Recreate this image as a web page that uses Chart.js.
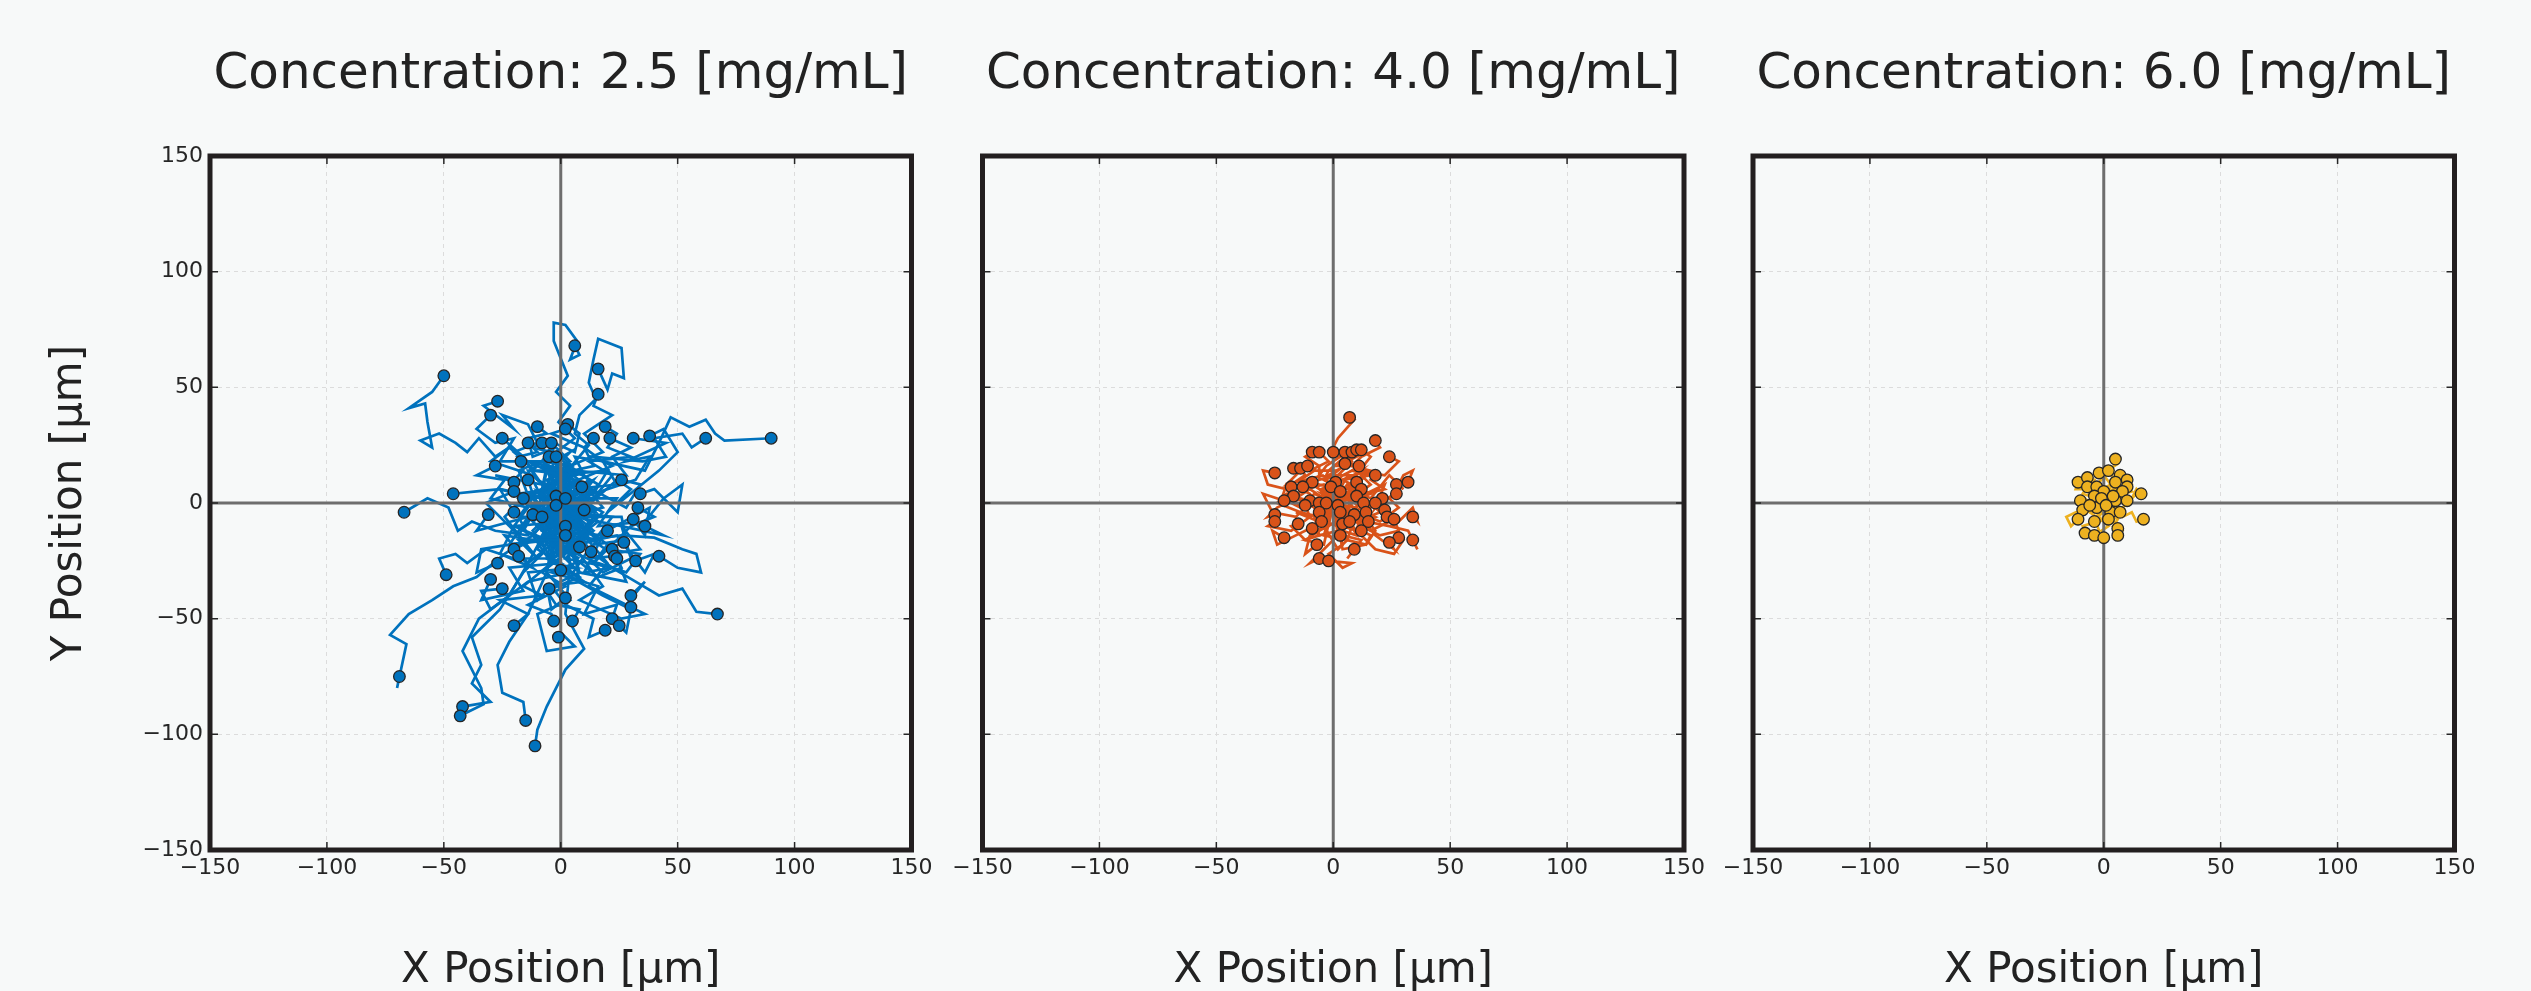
<!DOCTYPE html>
<html>
<head>
<meta charset="utf-8">
<title>Particle tracks</title>
<script src="https://cdn.jsdelivr.net/npm/chart.js@4.4.1/dist/chart.umd.min.js"></script>
<style>
  body { margin: 0; background: #f7f9f9; }
  .panel { position: absolute; top: 0; }
</style>
</head>
<body>
<canvas id="c0" class="panel" width="945" height="991" style="left:0px"></canvas>
<canvas id="c1" class="panel" width="772" height="991" style="left:945px"></canvas>
<canvas id="c2" class="panel" width="814" height="991" style="left:1717px"></canvas>
<script>
const concentrations = ['2.5', '4.0', '6.0'];
const axisTicks = [-150, -100, -50, 0, 50, 100, 150];

// every track starts at the origin; x,y pairs follow, the last pair is the end marker
const tracks25 = [
  [-5,4, 3,10, -6,14, -2,6, -10,10, -15,18, -22,24, -28,20, -35,28, -40,22, -45,26, -52,30, -60,27, -55,24, -57,35, -58,43, -65,41, -55,48, -50,55],
  [4,6, -3,12, 5,16, -2,22, 6,28, -1,35, 4,42, -2,48, 3,55, 1,60, -3,70, -3,78, 2,77, 7,70, 4,62, 8,64, 6,68],
  [6,-5, 10,8, 3,14, 12,25, 6,30, 8,38, 15,45, 12,52, 14,62, 16,71, 26,67, 27,54, 22,56, 20,49, 16,58],
  [5,-4, -3,2, 8,6, 12,10, 4,16, 18,22, 10,30, 16,34, 22,38, 14,42, 16,47],
  [-6,8, 2,12, -8,18, -12,15, -20,22, -10,26, -14,34, -25,38, -20,32, -33,42, -27,44],
  [-10,5, -2,-6, -12,-2, -18,14, -8,18, -26,18, -20,28, -28,26, -36,32, -30,38],
  [3,8, -8,4, -6,14, 4,18, -2,24, -12,20, -14,28, -6,30, -10,33],
  [-5,6, 6,4, 4,16, -8,18, -3,26, 6,22, 8,30, 3,34],
  [7,-6, -4,-10, 12,5, 2,4, 5,14, 14,16, 10,24, -4,30, 2,32],
  [8,4, 15,-3, 6,-8, 22,12, 12,18, 30,20, 20,24, 24,30, 19,33],
  [-8,-6, 2,-12, -18,2, -6,6, -12,12, -30,18, -22,24, -16,20, -25,28],
  [-5,-8, 6,-14, -14,4, -2,8, -6,14, -18,20, -10,22, -14,26],
  [4,4, -8,-4, -3,10, 6,12, -12,14, -4,22, -12,24, -8,26],
  [-7,5, 4,-2, 2,10, -6,6, -3,18, 4,22, -2,16, -4,26],
  [5,7, -6,2, -2,15, 10,12, 6,20, 18,18, 10,24, 14,28],
  [10,-2, 2,-10, 16,8, 6,14, 28,12, 22,20, 30,24, 21,28],
  [9,6, -2,12, 20,14, 14,4, 32,10, 38,20, 28,18, 45,26, 31,28],
  [12,2, 4,-8, 24,10, 30,6, 20,-4, 42,14, 50,22, 44,32, 38,29],
  [10,8, -2,6, 22,16, 14,20, 35,18, 45,20, 40,28, 52,30, 56,24, 62,28],
  [15,-4, 6,6, 24,8, 18,18, 36,14, 42,26, 47,37, 55,33, 62,36, 66,30, 70,27, 90,28],
  [5,3, -4,-6, 8,-10, -12,4, -4,8, 0,12, -8,16, -5,20],
  [6,-5, -6,-2, 10,6, 2,10, -6,14, 4,16, -2,20],
  [-4,10, 4,4, -12,2, -6,-6, -22,8, -16,14, -17,18],
  [-8,-4, 2,-8, -20,-10, -14,-2, -30,2, -24,10, -36,12, -28,16],
  [3,-8, -8,-3, 4,2, -4,6, -18,4, -10,-2, -14,10],
  [-6,10, 4,14, -15,18, -8,8, -28,12, -20,9],
  [-5,-10, 6,-6, -12,-4, -18,-14, -26,-6, -32,0, -20,5],
  [-10,3, 2,-6, -18,-6, -12,2, -26,6, -36,5, -46,4],
  [-8,-10, 4,-16, -18,-16, -10,-24, -24,-6, -16,2],
  [4,-8, -6,-14, 8,6, 14,-4, -6,8, -10,-2, -2,3],
  [-6,-4, 4,8, 6,-12, 12,2, 10,-4, 2,2],
  [10,-12, 2,-20, 18,-4, 8,2, 14,10, 9,7],
  [8,-6, 16,4, 6,10, 28,-2, 34,8, 26,10],
  [12,10, 4,2, 24,2, 16,-10, 36,-8, 44,2, 52,8, 50,-4, 40,6, 34,4],
  [10,-10, 2,-4, 20,-18, 14,-26, 30,-10, 40,-6, 33,-2],
  [6,10, -6,16, -8,6, 6,2, -4,-6, -2,-1],
  [-10,-4, -4,6, -20,-2, -14,-14, -28,-12, -38,-8, -44,-12, -48,-2, -57,2, -67,-4],
  [-10,-10, 2,-14, -22,-18, -14,-6, -36,-12, -31,-5],
  [-4,8, 6,14, -14,14, -8,2, -26,6, -20,-4],
  [6,-10, -6,-6, -4,-18, 8,-24, -16,-12, -12,-5],
  [-4,12, 8,8, -12,4, -6,-8, -2,-8, -8,-6],
  [-4,-10, 6,-6, 8,-16, -2,-22, 16,-8, 10,-3],
  [12,4, 4,-4, 22,-6, 16,-14, 38,-2, 36,-14, 31,-7],
  [10,-14, 2,-8, 22,-22, 34,-20, 26,-10, 44,-14, 36,-10],
  [-6,6, 4,12, -8,-8, 10,0, -2,-4, 6,-14, 2,-10],
  [8,-4, -4,-8, 6,6, -8,-18, 6,-20, -4,-24, 2,-14],
  [10,8, 18,-2, 4,-6, 26,-6, 28,-16, 14,-18, 20,-12],
  [6,-14, -2,-18, 16,-26, 28,-30, 34,-22, 20,-20, 27,-17],
  [-6,-10, 6,-4, 2,-22, 12,-12, -4,-16, 8,-19],
  [8,-6, -2,-12, 18,-14, 10,-30, 22,-28, 13,-21],
  [12,-8, 4,-20, -6,-14, 16,-32, 26,-28, 22,-20],
  [14,2, 6,-6, 26,-10, 30,-24, 18,-30, 12,-24, 23,-23],
  [6,-8, 16,-16, -2,-20, 8,-30, 28,-34, 24,-24],
  [14,-12, 6,-18, 24,-14, 36,-30, 40,-22, 32,-25],
  [14,-6, 8,-16, 26,-14, 40,-15, 52,-20, 58,-22, 60,-30, 50,-28, 42,-23],
  [-10,-6, 2,-12, -4,-18, -14,-26, -24,-14, -12,-16, -20,-20],
  [-8,-14, 4,-20, -20,-10, -26,-22, -12,-28, -18,-23],
  [-12,-8, -4,-16, -22,-18, -34,-20, -36,-30, -27,-26],
  [-12,-12, -4,-24, -20,-24, -32,-20, -40,-26, -45,-22, -52,-24, -49,-31],
  [-10,-20, 0,-26, -22,-28, -16,-38, -34,-42, -30,-33],
  [-6,-24, 4,-30, -14,-34, -30,-46, -34,-38, -25,-37],
  [-8,-12, 6,-18, -4,-24, 4,-10, 8,-34, 0,-29],
  [-12,-14, -4,-26, 6,-28, -14,-30, -10,-42, -5,-37],
  [6,-16, -2,-26, 10,-34, -6,-36, -4,-46, 2,-41],
  [10,-14, 20,-26, 12,-36, 28,-44, 36,-34, 30,-40],
  [8,-22, 18,-36, 8,-42, 26,-50, 36,-48, 30,-45],
  [10,-16, 2,-24, 22,-28, 32,-34, 42,-40, 52,-37, 58,-47, 67,-48],
  [6,-26, -4,-30, 16,-36, 10,-48, 24,-44, 22,-50],
  [12,-20, 4,-32, 18,-40, 30,-46, 28,-56, 25,-53],
  [8,-30, -4,-36, 2,-44, 14,-50, 12,-58, 19,-55],
  [-4,-24, 8,-32, -6,-38, -2,-44, 8,-46, 5,-51],
  [4,-20, -8,-30, 2,-36, -14,-44, -4,-48, -3,-51],
  [-6,-30, 4,-42, -10,-48, -6,-64, 6,-62, 0,-56, -1,-58],
  [-4,-26, -16,-36, -8,-40, -26,-42, -14,-48, -20,-53],
  [-12,-14, -24,-22, -36,-32, -46,-36, -55,-42, -65,-48, -73,-57, -66,-61, -70,-80, -69,-75],
  [-8,-22, -16,-30, -26,-46, -38,-58, -34,-70, -38,-78, -30,-86, -42,-88],
  [-14,-26, -22,-40, -35,-50, -42,-64, -34,-80, -33,-87, -43,-92],
  [-6,-30, -14,-48, -22,-60, -27,-70, -25,-82, -16,-86, -15,-94],
  [4,-26, 2,-48, 10,-63, 2,-72, -6,-88, -10,-98, -11,-105]
];

const tracks40 = [
  [3,6, -4,10, -2,14, 5,20, 0,24, 2,28, 9,36, 7,37],
  [4,-3, -2,4, 10,8, 16,14, 8,16, 12,20, 20,24, 18,27],
  [-4,6, 2,12, -6,10, -6,16, -12,20, -9,22],
  [3,4, -3,10, 2,14, -10,14, -2,18, -6,22],
  [-5,6, 4,10, -6,12, -3,16, 3,20, 0,22],
  [6,-4, 10,6, -2,6, 2,12, 8,18, 5,22],
  [-4,4, 4,12, 12,16, 2,16, 6,19, 8,22],
  [8,6, 14,14, 6,18, 12,21, 10,23],
  [5,10, 12,14, 8,10, 16,20, 12,23],
  [8,2, 16,8, 10,14, 22,12, 28,18, 24,20],
  [-4,4, 2,9, 8,12, -2,12, 3,15, 5,17],
  [-6,2, -14,-2, -20,6, -28,8, -30,14, -25,13],
  [-6,6, -12,10, -4,12, -20,8, -14,14, -17,15],
  [-4,-4, -10,4, -18,8, -12,12, -14,15],
  [2,6, -6,8, -14,10, -8,14, -11,16],
  [6,4, 12,6, 4,10, 16,12, 8,14, 11,16],
  [8,-4, 14,4, 22,6, 16,10, 18,12],
  [10,2, 18,-2, 26,4, 30,12, 34,14, 32,9],
  [8,6, 16,2, 24,12, 30,6, 27,8],
  [10,-4, 20,-8, 28,-2, 24,2, 27,4],
  [6,8, 14,4, 22,8, 18,-2, 21,2],
  [-6,-4, 2,4, -4,8, -12,6, -9,9],
  [-8,4, -14,-2, -22,2, -20,8, -18,7],
  [-6,-6, -14,-4, -24,0, -20,4, -17,3],
  [-4,2, -10,6, -16,2, -13,7],
  [-8,2, -16,-6, -26,-4, -30,4, -21,1],
  [4,4, -2,2, 3,6, 1,9],
  [-4,-2, 2,3, -3,5, -1,7],
  [6,2, 12,-2, 8,6, 10,9],
  [4,-4, 10,2, 16,4, 12,6],
  [-2,-4, 5,-2, 1,2, 3,5],
  [6,-6, 12,-2, 8,2, 10,3],
  [-4,4, -8,-2, -14,2, -10,1],
  [2,-4, -4,-6, -8,-2, -6,0],
  [-5,4, 2,2, -3,-2, -3,0],
  [4,4, -2,-4, 4,-2, 2,-1],
  [6,-2, 10,4, 16,-2, 13,0],
  [8,4, 14,-4, 20,2, 18,0],
  [-6,-8, -16,-4, -10,-6, -12,-1],
  [4,-6, -2,-10, -8,-6, -6,-4],
  [-4,-8, 2,-10, 6,-6, 3,-4],
  [4,-10, 10,-12, 12,-4, 9,-5],
  [6,2, 12,-8, 18,-6, 14,-4],
  [8,-6, 16,-12, 24,-8, 22,-3],
  [10,4, 18,-2, 26,-10, 23,-6],
  [12,-10, 20,-14, 28,-12, 26,-7],
  [10,-8, 20,-4, 28,-8, 34,-2, 36,-8, 34,-6],
  [-8,-2, -16,2, -24,-2, -28,-6, -25,-5],
  [-10,-6, -18,-12, -28,-10, -25,-8],
  [-6,-12, -12,-16, -18,-10, -15,-9],
  [2,-12, -6,-14, -8,-6, -5,-8],
  [-4,-14, 6,-16, 8,-10, 4,-9],
  [10,-2, 4,-12, 10,-14, 7,-8],
  [6,-16, 14,-18, 18,-12, 15,-8],
  [-4,-18, -12,-16, -6,-14, -9,-11],
  [4,-20, 14,-18, 16,-14, 12,-12],
  [-4,-10, 2,-20, 6,-16, 3,-14],
  [-8,-10, -16,-14, -24,-18, -26,-12, -21,-15],
  [10,-12, 18,-20, 26,-22, 30,-16, 28,-15],
  [12,-6, 18,-14, 26,-20, 24,-17],
  [14,-8, 24,-10, 32,-12, 36,-20, 34,-16],
  [-2,-10, -10,-14, -12,-22, -7,-18],
  [4,-14, 12,-16, 6,-24, 9,-20],
  [2,-14, -4,-20, -10,-26, -6,-24],
  [4,-18, -2,-22, 4,-28, 8,-26, -2,-25]
];

const tracks60 = [
  [2,4, 4,10, 3,15, 6,17, 5,19],
  [-4,2, -8,6, -12,6, -11,9],
  [-2,4, -6,6, -4,10, -7,11],
  [2,4, -3,8, 0,11, -2,13],
  [-2,5, 3,8, 0,12, 2,14],
  [4,2, 8,6, 5,9, 7,12],
  [4,6, 9,4, 12,8, 10,10],
  [5,-2, 8,4, 12,5, 10,7],
  [-2,3, 3,5, 6,7, 5,9],
  [-3,-2, -6,3, -9,4, -7,7],
  [2,2, -2,4, -4,5, -3,7],
  [-2,-2, 2,2, -1,3, 0,5],
  [3,-2, 6,2, 9,3, 8,5],
  [4,2, 8,0, 12,2, 14,6, 16,4],
  [-4,-2, -8,2, -12,0, -10,1],
  [-2,-4, -5,0, -3,1, -4,3],
  [3,4, 6,-2, 4,0, 5,1],
  [4,-3, 8,-2, 12,2, 10,1],
  [-4,2, -8,0, -10,-4, -9,-3],
  [2,-4, -2,-5, -4,-1, -3,-2],
  [-2,-2, 2,-6, 4,-2, 3,-4],
  [4,2, 6,-6, 9,-2, 7,-4],
  [-4,-2, -8,-4, -12,-4, -16,-6, -14,-10, -11,-7],
  [-2,-3, -6,-4, -3,-6, -4,-8],
  [-1,-3, 3,-4, 0,-6, 2,-7],
  [4,-2, 8,-6, 12,-4, 14,-8, 17,-7],
  [2,-5, 6,-7, 4,-10, 6,-11],
  [-3,-6, -6,-9, -9,-10, -8,-13],
  [1,-6, -3,-9, -2,-12, -4,-14],
  [-2,-6, 2,-10, -1,-12, 0,-15],
  [3,-5, 5,-9, 8,-12, 6,-14],
  [2,-2, -2,0, -1,2],
  [-2,2, 2,1, 1,-1],
  [-3,2, -5,-3, -6,-1],
  [1,-2, 3,1, 4,3]
];

const allTracks = [tracks25, tracks40, tracks60];
const trackColors = ['#0072BD', '#D95319', '#EDB120'];
const panelLayout = [
  { yWidth: 210, padRight: 33.5, yLabels: true },
  { yWidth: 37.5, padRight: 33, yLabels: false },
  { yWidth: 36, padRight: 76.5, yLabels: false }
];

Chart.defaults.font.family = "'DejaVu Sans', sans-serif";

document.addEventListener('DOMContentLoaded', function() {
    allTracks.forEach((tracks, i) => makePanel(i, tracks));
});

function toPoints(flat) {
    const pts = [{ x: 0, y: 0 }];
    for (let k = 0; k < flat.length; k += 2) {
        pts.push({ x: flat[k], y: flat[k + 1] });
    }
    return pts;
}

function minusSign(v) {
    return String(v).replace('-', '\u2212');
}

// box around the axes plus inward tick marks on all four sides
const framePlugin = {
    id: 'frame',
    afterDraw(chart) {
        const { ctx, chartArea: a, scales } = chart;
        const len = 8;
        ctx.save();
        ctx.strokeStyle = '#262626';
        ctx.lineWidth = 1.5;
        ctx.beginPath();
        axisTicks.forEach(v => {
            const px = scales.x.getPixelForValue(v);
            const py = scales.y.getPixelForValue(v);
            ctx.moveTo(px, a.bottom); ctx.lineTo(px, a.bottom - len);
            ctx.moveTo(px, a.top); ctx.lineTo(px, a.top + len);
            ctx.moveTo(a.left, py); ctx.lineTo(a.left + len, py);
            ctx.moveTo(a.right, py); ctx.lineTo(a.right - len, py);
        });
        ctx.stroke();
        ctx.lineWidth = 5;
        ctx.strokeStyle = '#231f20';
        ctx.strokeRect(a.left, a.top, a.right - a.left, a.bottom - a.top);
        ctx.restore();
    }
};

function makePanel(i, tracks) {
    const color = trackColors[i];
    const layout = panelLayout[i];

    const datasets = tracks.map(t => ({
        data: toPoints(t),
        showLine: true,
        borderColor: color,
        borderWidth: 2.7,
        pointRadius: 0,
        order: 2
    }));
    datasets.push({
        data: [{ x: -150, y: 0 }, { x: 150, y: 0 }],
        showLine: true, borderColor: '#6e6e6e', borderWidth: 3, pointRadius: 0, order: 1
    });
    datasets.push({
        data: [{ x: 0, y: -150 }, { x: 0, y: 150 }],
        showLine: true, borderColor: '#6e6e6e', borderWidth: 3, pointRadius: 0, order: 1
    });
    datasets.push({
        data: tracks.map(t => ({ x: t[t.length - 2], y: t[t.length - 1] })),
        backgroundColor: color,
        borderColor: '#262626',
        borderWidth: 1.3,
        pointRadius: 5.8,
        order: 0
    });

    const grid = { color: '#dcdcdc', lineWidth: 1, drawTicks: false };
    const border = { display: false, dash: [4, 4] };
    const tickFont = { size: 22 };

    new Chart(document.getElementById('c' + i), {
        type: 'scatter',
        data: { datasets: datasets },
        plugins: [framePlugin],
        options: {
            responsive: false,
            animation: false,
            devicePixelRatio: 1,
            layout: { padding: { left: 0, right: layout.padRight, top: 0, bottom: 0 } },
            plugins: {
                legend: { display: false },
                tooltip: { enabled: false },
                title: {
                    display: true,
                    fullSize: false,
                    text: 'Concentration: ' + concentrations[i] + ' [mg/mL]',
                    font: { size: 50, weight: 'normal' },
                    color: '#222222',
                    padding: { top: 45, bottom: 51 }
                }
            },
            scales: {
                x: {
                    type: 'linear',
                    min: -150,
                    max: 150,
                    afterBuildTicks: s => { s.ticks = axisTicks.map(v => ({ value: v })); },
                    afterFit: s => { s.height = 141; },
                    grid: grid,
                    border: border,
                    ticks: { font: tickFont, color: '#262626', padding: 5, maxRotation: 0, autoSkip: false, callback: minusSign },
                    title: { display: true, text: 'X Position [μm]', font: { size: 42 }, color: '#222222', padding: { top: 0, bottom: -5 } }
                },
                y: {
                    type: 'linear',
                    min: -150,
                    max: 150,
                    afterBuildTicks: s => { s.ticks = axisTicks.map(v => ({ value: v })); },
                    afterFit: s => { s.width = layout.yWidth; },
                    grid: grid,
                    border: border,
                    ticks: { display: layout.yLabels, font: tickFont, color: '#262626', padding: 7, autoSkip: false, callback: minusSign },
                    title: { display: layout.yLabels, text: 'Y Position [μm]', font: { size: 42 }, color: '#222222', padding: { top: 45, bottom: 0 } }
                }
            }
        }
    });
}
</script>
</body>
</html>
